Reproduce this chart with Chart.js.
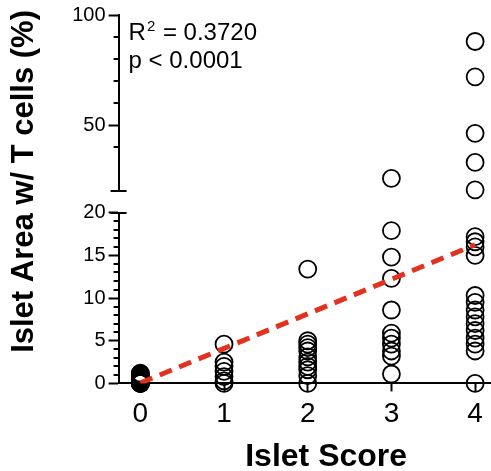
<!DOCTYPE html>
<html>
<head>
<meta charset="utf-8">
<script src="https://cdn.jsdelivr.net/npm/chart.js@4"></script>
<style>
  html, body { margin: 0; padding: 0; background: #fff; }
  #frame { width: 491px; height: 471px; overflow: hidden; }
  #wrap { width: 544px; height: 471px; }
</style>
</head>
<body>
<div id="frame"><div id="wrap"><canvas id="chart"></canvas></div></div>
<script>
// islet score categories and the % islet area with T cells per islet
const scores = [0, 1, 2, 3, 4];
const score0 = [0, 0, 0, 0, 0.05, 0.1, 0.15, 0.2, 0.25, 0.3, 0.4, 0.5, 0.6, 0.7, 0.8, 0.9, 1.0, 1.1, 1.2];
const score1 = [4.6, 2.5, 2.0, 1.4, 0.8, 0.3, 0];
const score2 = [13.4, 5.0, 4.6, 4.2, 3.8, 3.1, 2.5, 2.0, 1.6, 0.9, 0];
const score3 = [26, 17.9, 14.8, 12.3, 8.6, 5.9, 5.3, 4.6, 3.8, 3.2, 1.1];
const score4 = [88, 72, 46.4, 33.2, 20.8, 17.2, 16.6, 16.0, 15.0, 10.3, 9.5, 8.6, 7.8, 7.0, 6.2, 5.3, 4.6, 3.8, 0];
const areas = [score0, score1, score2, score3, score4];

// linear fit
const fitX = [0, 4];
const fitY = [0.05, 16.25];
const rSquared = "0.3720";
const pValue = "p < 0.0001";

// broken axis: lower 0-20, upper 20.4-100
const lowerTicks = [0, 5, 10, 15, 20];
const upperTicks = [50, 100];
const breakAt = 20;

const FONT = "'Liberation Sans', Arial, sans-serif";
Chart.defaults.font.family = FONT;
Chart.defaults.color = "#000";

function points(test) {
  return scores.flatMap((s, i) => areas[i].filter(test).map((v) => ({ x: s, y: v })));
}

const circle = {
  type: "scatter",
  pointStyle: "circle",
  pointRadius: 8.5,
  pointHoverRadius: 8.5,
  pointBorderWidth: 1.8,
  pointBorderColor: "#000",
  pointBackgroundColor: "rgba(0,0,0,0)",
  clip: false,
  order: 1,
};

const extras = {
  id: "extras",
  afterDraw(chart) {
    const ctx = chart.ctx;
    ctx.save();
    ctx.strokeStyle = "#000";
    ctx.lineWidth = 2;
    // short minor ticks
    [["y", lowerTicks], ["y2", upperTicks]].forEach(([id, major]) => {
      const s = chart.scales[id];
      ctx.beginPath();
      s.ticks.forEach((t) => {
        if (major.includes(t.value)) return;
        const py = Math.round(s.getPixelForValue(t.value));
        ctx.moveTo(s.right - 5, py);
        ctx.lineTo(s.right, py);
      });
      ctx.stroke();
    });
    // break caps
    const lo = chart.scales.y;
    const hi = chart.scales.y2;
    ctx.beginPath();
    ctx.moveTo(lo.right - 8, Math.round(lo.top));
    ctx.lineTo(lo.right + 8, Math.round(lo.top));
    ctx.moveTo(hi.right - 8, Math.round(hi.bottom));
    ctx.lineTo(hi.right + 8, Math.round(hi.bottom));
    ctx.stroke();

    // fit stats
    const area = chart.chartArea;
    const x = area.left + 10;
    ctx.fillStyle = "#000";
    ctx.textBaseline = "alphabetic";
    ctx.textAlign = "left";
    ctx.font = "24px " + FONT;
    ctx.fillText("R", x, area.top + 25);
    const wR = ctx.measureText("R").width;
    ctx.font = "15px " + FONT;
    ctx.fillText("2", x + wR + 1, area.top + 16);
    const w2 = ctx.measureText("2").width;
    ctx.font = "24px " + FONT;
    ctx.fillText(" = " + rSquared, x + wR + w2 + 2, area.top + 25);
    ctx.fillText(pValue, x, area.top + 53);
    ctx.restore();
  },
};

new Chart(document.getElementById("chart"), {
  type: "scatter",
  data: {
    datasets: [
      {
        type: "line",
        label: "fit",
        data: fitX.map((x, i) => ({ x: x, y: fitY[i] })),
        yAxisID: "y",
        borderColor: "#e2311f",
        borderWidth: 5,
        borderDash: [13, 8],
        pointRadius: 0,
        fill: false,
        order: 0,
      },
      Object.assign({ label: "low", data: points((v) => v <= breakAt), yAxisID: "y" }, circle),
      Object.assign({ label: "high", data: points((v) => v > breakAt), yAxisID: "y2" }, circle),
    ],
  },
  options: {
    responsive: true,
    maintainAspectRatio: false,
    animation: false,
    events: [],
    layout: { padding: { top: 10, right: 0, bottom: 0, left: 0 } },
    plugins: {
      legend: { display: false },
      tooltip: { enabled: false },
      title: {
        display: true,
        position: "left",
        align: "end",
        fullSize: true,
        text: "Islet Area w/ T cells (%)",
        color: "#000",
        font: { size: 31, weight: "bold" },
        padding: { top: 6, bottom: 26 },
      },
    },
    scales: {
      x: {
        type: "linear",
        min: -0.26,
        max: 4.7,
        afterBuildTicks: (s) => {
          s.ticks = scores.map((v) => ({ value: v }));
        },
        border: { color: "#000", width: 2 },
        grid: { drawOnChartArea: false, tickLength: 8, tickWidth: 2, tickColor: "#000" },
        ticks: { font: { size: 28 }, color: "#000", padding: 6 },
        title: {
          display: true,
          text: "Islet Score",
          color: "#000",
          font: { size: 32, weight: "bold", lineHeight: 0.85 },
          padding: { top: 6.8, bottom: 0 },
        },
      },
      y: {
        type: "linear",
        position: "left",
        stack: "left",
        stackWeight: 170,
        min: 0,
        max: 20,
        border: { color: "#000", width: 2 },
        grid: {
          drawOnChartArea: false,
          tickLength: 10,
          tickWidth: 2,
          tickColor: (c) => (lowerTicks.includes(c.tick.value) ? "#000" : "rgba(0,0,0,0)"),
        },
        ticks: {
          stepSize: 1,
          autoSkip: false,
          padding: 3,
          font: { size: 20 },
          color: "#000",
          callback: (v) => (lowerTicks.includes(v) ? v : ""),
        },
      },
      yGap: {
        type: "linear",
        position: "left",
        stack: "left",
        stackWeight: 22,
        min: 0,
        max: 1,
        border: { display: false },
        grid: { display: false },
        ticks: { display: false },
      },
      y2: {
        type: "linear",
        position: "left",
        stack: "left",
        stackWeight: 175,
        min: 20.4,
        max: 100,
        afterBuildTicks: (s) => {
          s.ticks = s.ticks.filter((t) => t.value % 10 === 0);
        },
        border: { color: "#000", width: 2 },
        grid: {
          drawOnChartArea: false,
          tickLength: 10,
          tickWidth: 2,
          tickColor: (c) => (upperTicks.includes(c.tick.value) ? "#000" : "rgba(0,0,0,0)"),
        },
        ticks: {
          stepSize: 10,
          autoSkip: false,
          padding: 3,
          font: { size: 20 },
          color: "#000",
          callback: (v) => (upperTicks.includes(v) ? v : ""),
        },
      },
    },
  },
  plugins: [extras],
});
</script>
</body>
</html>
